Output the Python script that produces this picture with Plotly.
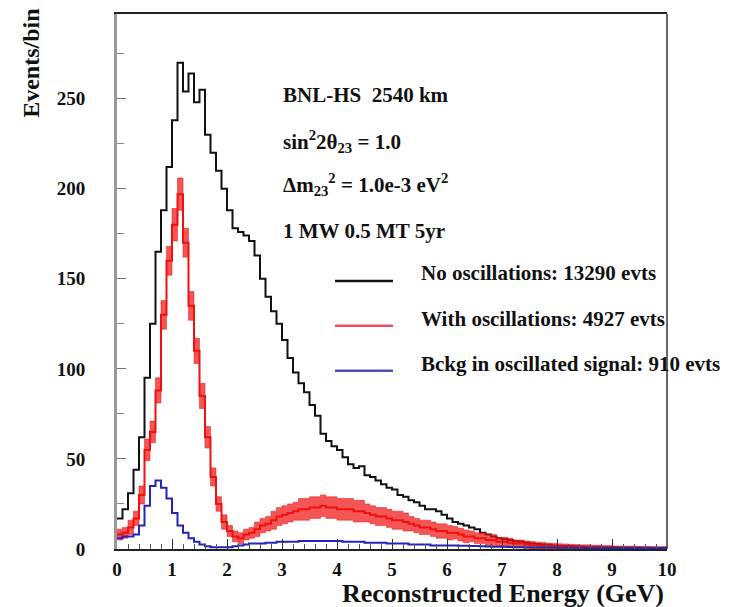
import numpy as np
import plotly.graph_objects as go

# ---- data (0.1 GeV bins from 0 to 10 GeV) ----
bin_width = 0.1
n_bins = 100

no_osc = [
    17, 22, 31, 44, 62, 95, 125, 165, 188, 212,
    238, 270, 254, 264, 248, 255, 230, 220, 210, 200,
    188, 178, 176, 174, 171, 163, 150, 140, 132, 125,
    116, 106, 98, 92, 87, 80, 74, 64, 60, 57,
    55, 51, 47, 45, 46, 41, 40, 38, 36, 34,
    33, 30, 29, 27, 26, 24, 22, 22, 21, 19,
    17, 15, 14, 13, 12, 11, 9, 8, 7, 6,
    5.5, 5, 4.5, 4, 3.5, 3, 2.8, 2.5, 2.3, 2,
    1.8, 1.7, 1.6, 1.5, 1.4, 1.3, 1.2, 1.2, 1.1, 1.0,
    1.0, 0.9, 0.9, 0.8, 0.8, 0.7, 0.7, 0.6, 0.6, 0.5]

with_osc = [
    8, 9, 12, 17, 30, 55, 65, 88, 130, 160,
    180, 197, 170, 135, 110, 85, 62, 40, 25, 15,
    10, 7, 6, 8, 9, 11, 13, 14, 16, 18,
    19, 20, 21, 22, 22, 23, 23, 24, 23, 23,
    22, 22, 22, 21, 21, 20, 19, 18, 18, 17,
    16, 16, 15, 14, 13, 12, 12, 11, 10, 10,
    9, 9, 8, 7, 7, 6, 6, 5, 5, 4,
    4, 3.5, 3, 3, 2.5, 2.2, 2, 1.8, 1.6, 1.5,
    1.4, 1.3, 1.2, 1.1, 1.0, 1.0, 0.9, 0.9, 0.8, 0.8,
    0.7, 0.7, 0.6, 0.6, 0.5, 0.5, 0.5, 0.4, 0.4, 0.4]

with_osc_err = [
    3, 3, 4, 4, 5, 6, 6, 7, 8, 8,
    9, 9, 8, 8, 7, 7, 6, 5, 4, 4,
    3, 3, 3, 3, 3, 4, 4, 4, 5, 5,
    5, 5, 5, 6, 6, 6, 6, 6, 6, 6,
    6, 6, 6, 6, 6, 5, 5, 5, 5, 5,
    5, 5, 5, 4, 4, 4, 4, 4, 4, 4,
    4, 3.5, 3.5, 3.5, 3, 3, 3, 3, 3, 2.5,
    2.5, 2.5, 2, 2, 2, 2, 1.8, 1.8, 1.6, 1.6,
    1.5, 1.5, 1.4, 1.4, 1.3, 1.3, 1.2, 1.2, 1.1, 1.1,
    1, 1, 1, 1, 1, 1, 1, 1, 1, 1]

bckg = [
    6, 7, 7, 8, 13, 24, 35, 38, 34, 28,
    20, 13, 9, 6, 4, 2.5, 1.5, 1, 1, 1,
    1, 1.5, 2, 2.5, 3, 3, 3, 3.5, 3.5, 4,
    4, 4, 4, 4.5, 4.5, 4.5, 4.5, 4.5, 4.5, 4.5,
    4.5, 4, 4, 4, 4, 3.5, 3.5, 3.5, 3.5, 3,
    3, 3, 3, 2.5, 2.5, 2.5, 2.5, 2, 2, 2,
    2, 2, 1.8, 1.8, 1.6, 1.6, 1.5, 1.4, 1.3, 1.2,
    1.2, 1.1, 1.0, 1.0, 0.9, 0.9, 0.9, 0.8, 0.8, 0.8,
    0.7, 0.7, 0.7, 0.7, 0.7, 0.6, 0.6, 0.6, 0.6, 0.6,
    0.6, 0.5, 0.5, 0.5, 0.5, 0.5, 0.5, 0.5, 0.5, 0.5]

series_names = ["No oscillations: 13290 evts",
                "With oscillations: 4927 evts",
                "Bckg in oscillated signal: 910 evts"]
info_lines = ["<b>BNL-HS  2540 km</b>",
              "<b>sin<sup>2</sup>2θ<sub>23</sub> = 1.0</b>",
              "<b>Δm<sub>23</sub><sup>2</sup> = 1.0e-3 eV<sup>2</sup></b>",
              "<b>1 MW 0.5 MT 5yr</b>"]
x_title = "Reconstructed Energy (GeV)"
y_title = "Events/bin"

# ---- geometry helpers ----
edges = np.round(np.arange(n_bins + 1) * bin_width, 3)


def step_y(vals):
    return list(vals) + [vals[-1]]


lower = [max(v - e, 0) for v, e in zip(with_osc, with_osc_err)]
upper = [v + e for v, e in zip(with_osc, with_osc_err)]

BLACK = "#111111"
RED = "#f01010"
BLUE = "#2424b8"
FONT = "Liberation Serif"
YMAX = 297

fig = go.Figure()

fig.add_trace(go.Scatter(x=edges, y=step_y(no_osc), mode="lines",
                         line=dict(shape="hv", color=BLACK, width=2),
                         name=series_names[0], showlegend=False))
fig.add_trace(go.Scatter(x=edges, y=step_y(lower), mode="lines",
                         line=dict(shape="hv", color="rgba(240,20,20,0.5)", width=1),
                         showlegend=False, hoverinfo="skip"))
fig.add_trace(go.Scatter(x=edges, y=step_y(upper), mode="lines",
                         line=dict(shape="hv", color="rgba(240,20,20,0.5)", width=1),
                         fill="tonexty", fillcolor="rgba(240,20,20,0.72)",
                         showlegend=False, hoverinfo="skip"))
fig.add_trace(go.Scatter(x=edges, y=step_y(with_osc), mode="lines",
                         line=dict(shape="hv", color=RED, width=2),
                         name=series_names[1], showlegend=False))
fig.add_trace(go.Scatter(x=edges, y=step_y(bckg), mode="lines", yaxis="y2",
                         line=dict(shape="hv", color=BLUE, width=2),
                         name=series_names[2], showlegend=False))

# ---- plot geometry ----
L, R, T, B = 117, 71, 12, 58
W, H = 738, 607
pw, ph = W - L - R, H - T - B


def px_x(px):
    return (px - L) / pw


def px_y(py):
    return (H - B - py) / ph


annotations = []
info_y = [93, 140, 183, 230]
for txt, yy in zip(info_lines, info_y):
    annotations.append(dict(text=txt, xref="paper", yref="paper",
                            x=px_x(281), y=px_y(yy), xanchor="left",
                            yanchor="middle", showarrow=False,
                            font=dict(family=FONT, size=21, color="#111")))

leg_text_y = [272, 318, 363]
leg_line_y = [280, 325, 370]
leg_colors = [BLACK, "#e85060", "#5050b8"]
shapes = []
for name, ty, ly, c in zip(series_names, leg_text_y, leg_line_y, leg_colors):
    annotations.append(dict(text="<b>" + name + "</b>", xref="paper", yref="paper",
                            x=px_x(419), y=px_y(ty), xanchor="left",
                            yanchor="middle", showarrow=False,
                            font=dict(family=FONT, size=21, color="#111")))
    shapes.append(dict(type="line", xref="paper", yref="paper",
                       x0=px_x(335), x1=px_x(393), y0=px_y(ly), y1=px_y(ly),
                       line=dict(color=c, width=2.5)))

# right frame edge
shapes.append(dict(type="line", xref="paper", yref="paper", x0=1, x1=1, y0=0, y1=1,
                   line=dict(color="#333", width=1.5)))

annotations.append(dict(text="<b>" + x_title + "</b>", xref="paper", yref="paper",
                        x=px_x(666), y=px_y(594), xanchor="right", yanchor="middle",
                        showarrow=False, font=dict(family=FONT, size=26, color="#111")))
annotations.append(dict(text="<b>" + y_title + "</b>", xref="paper", yref="paper",
                        x=px_x(31), y=px_y(62), xanchor="center", yanchor="middle",
                        textangle=-90, showarrow=False,
                        font=dict(family=FONT, size=24, color="#111")))

fig.update_layout(
    width=W, height=H,
    margin=dict(l=L, r=R, t=T, b=B),
    paper_bgcolor="white", plot_bgcolor="white",
    font=dict(family=FONT, color="#111"),
    annotations=annotations, shapes=shapes,
    showlegend=False,
    xaxis=dict(range=[0, 10], showgrid=False, zeroline=False,
               showline=True, linecolor="#222", linewidth=1.5, mirror=True,
               ticks="inside", ticklen=10, tickwidth=1, tickcolor="#333",
               tick0=0, dtick=1,
               minor=dict(ticks="inside", ticklen=5, dtick=0.2, tickcolor="#555"),
               tickfont=dict(family=FONT, size=19, weight="bold", color="#111"),
               ticklabelstandoff=2),
    yaxis=dict(range=[0, YMAX], showgrid=False, zeroline=False, showline=False,
               ticks="outside", ticklen=27, tickcolor="rgba(0,0,0,0)",
               tick0=0, dtick=50,
               tickfont=dict(family=FONT, size=19, weight="bold", color="#111")),
    yaxis2=dict(overlaying="y", side="left", range=[0, YMAX],
                showgrid=False, zeroline=False, showticklabels=False,
                showline=True, linecolor="#999", linewidth=3,
                ticks="inside", ticklen=9, tickwidth=1, tickcolor="#777",
                tick0=0, dtick=50,
                minor=dict(ticks="inside", ticklen=7, dtick=25, tickcolor="#888")),
)

fig.write_html("out.html")
